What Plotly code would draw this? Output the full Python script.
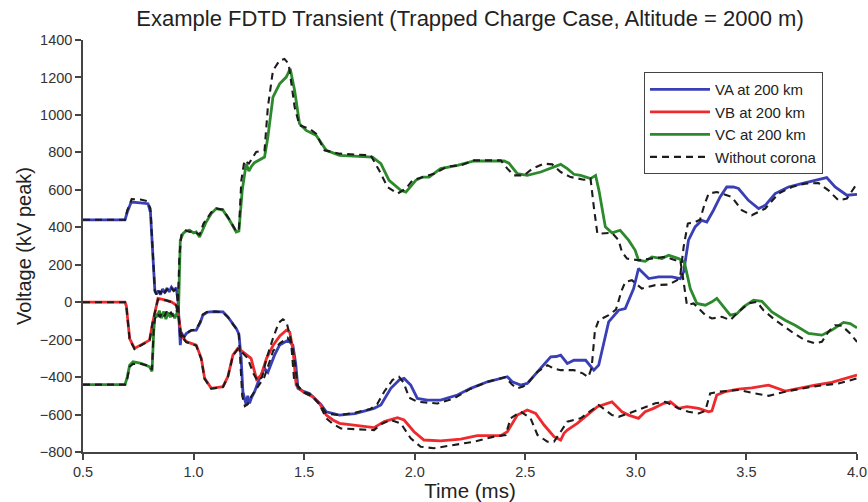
import plotly.graph_objects as go

# Phase voltages 200 km from the source (time in ms, voltage in kV peak)
va_with_corona = [
    (0.5, 440), (0.69, 440), (0.70, 480), (0.718, 535), (0.76, 530), (0.794, 526),
    (0.805, 480), (0.815, 250), (0.825, 60), (0.832, 45), (0.84, 62), (0.85, 40),
    (0.86, 70), (0.87, 50), (0.88, 75), (0.89, 55), (0.90, 80), (0.91, 65),
    (0.922, 76), (0.93, 0), (0.94, -230), (0.945, -160), (0.955, -190), (0.967, -167),
    (0.99, -150), (1.012, -149), (1.03, -110), (1.042, -69), (1.06, -55), (1.073, -52),
    (1.10, -50), (1.133, -52), (1.155, -78), (1.18, -120), (1.193, -140), (1.205, -170),
    (1.215, -300), (1.223, -478), (1.232, -520), (1.238, -549), (1.245, -500),
    (1.253, -540), (1.262, -510), (1.276, -478), (1.298, -407), (1.321, -354),
    (1.336, -375), (1.366, -283), (1.389, -229), (1.427, -203), (1.449, -229),
    (1.462, -330), (1.472, -460), (1.50, -478), (1.524, -487), (1.554, -523),
    (1.575, -545), (1.60, -585), (1.66, -603), (1.73, -595), (1.816, -567),
    (1.847, -549), (1.892, -460), (1.93, -415), (1.952, -407), (1.982, -443),
    (2.012, -514), (2.057, -523), (2.117, -523), (2.193, -496), (2.253, -460),
    (2.329, -425), (2.419, -398), (2.441, -425), (2.479, -443), (2.509, -434),
    (2.555, -372), (2.615, -292), (2.64, -290), (2.66, -283), (2.69, -327),
    (2.72, -310), (2.773, -310), (2.81, -363), (2.832, -336), (2.877, -105),
    (2.922, -43), (2.952, -34), (2.99, 73), (3.012, 180), (3.035, 153), (3.058, 126),
    (3.103, 135), (3.163, 135), (3.201, 126), (3.216, 162), (3.238, 331),
    (3.268, 402), (3.298, 437), (3.321, 428), (3.351, 491), (3.381, 562),
    (3.411, 615), (3.441, 615), (3.464, 607), (3.509, 544), (3.555, 500),
    (3.585, 517), (3.63, 580), (3.69, 615), (3.75, 633), (3.811, 651),
    (3.863, 665), (3.901, 615), (3.954, 571), (4.0, 576),
]

vb_with_corona = [
    (0.5, 0), (0.69, 0), (0.696, -20), (0.711, -194), (0.733, -247), (0.763, -229),
    (0.801, -203), (0.816, -105), (0.839, 20), (0.86, 15), (0.876, 11), (0.899, 2),
    (0.922, -16), (0.93, -60), (0.944, -176), (0.967, -211), (1.012, -229),
    (1.035, -300), (1.05, -407), (1.08, -460), (1.133, -451), (1.155, -398),
    (1.178, -283), (1.20, -247), (1.223, -265), (1.26, -300), (1.285, -412),
    (1.306, -389), (1.33, -300), (1.36, -230), (1.39, -180), (1.42, -150),
    (1.435, -160), (1.45, -260), (1.464, -443), (1.494, -478), (1.539, -505),
    (1.569, -540), (1.60, -603), (1.63, -629), (1.66, -647), (1.816, -670),
    (1.862, -638), (1.922, -617), (1.952, -629), (1.997, -692), (2.042, -736),
    (2.117, -741), (2.208, -731), (2.283, -713), (2.389, -713), (2.419, -692),
    (2.464, -603), (2.509, -576), (2.547, -594), (2.585, -656), (2.63, -718),
    (2.66, -736), (2.675, -700), (2.69, -683), (2.735, -647), (2.78, -603),
    (2.826, -558), (2.892, -532), (2.937, -585), (2.967, -603), (3.012, -620),
    (3.042, -585), (3.08, -567), (3.126, -540), (3.156, -532), (3.193, -567),
    (3.231, -558), (3.284, -567), (3.329, -585), (3.344, -580), (3.366, -496),
    (3.404, -478), (3.464, -464), (3.524, -457), (3.60, -443), (3.675, -475),
    (3.735, -460), (3.811, -443), (3.886, -428), (3.946, -407), (4.0, -389),
]

vc_with_corona = [
    (0.5, -440), (0.69, -440), (0.70, -400), (0.711, -336), (0.726, -318),
    (0.763, -327), (0.801, -345), (0.812, -370), (0.82, -150), (0.826, -60),
    (0.835, -80), (0.845, -45), (0.855, -85), (0.865, -50), (0.875, -90),
    (0.885, -55), (0.895, -80), (0.905, -60), (0.915, -85), (0.925, -60),
    (0.932, -40), (0.94, 331), (0.952, 366), (0.965, 380), (0.982, 384),
    (1.0, 370), (1.012, 375), (1.027, 348), (1.057, 428), (1.08, 473),
    (1.103, 500), (1.133, 491), (1.163, 437), (1.193, 375), (1.205, 380),
    (1.22, 597), (1.238, 740), (1.25, 700), (1.26, 722), (1.275, 745),
    (1.291, 757), (1.321, 775), (1.336, 882), (1.359, 1095), (1.389, 1166),
    (1.419, 1202), (1.437, 1246), (1.457, 1131), (1.479, 953), (1.509, 917),
    (1.554, 891), (1.60, 811), (1.66, 784), (1.809, 775), (1.847, 740),
    (1.884, 651), (1.937, 597), (1.96, 588), (2.005, 651), (2.035, 668),
    (2.065, 668), (2.117, 713), (2.193, 731), (2.268, 754), (2.404, 754),
    (2.426, 742), (2.464, 686), (2.509, 677), (2.57, 695), (2.63, 722),
    (2.66, 736), (2.69, 713), (2.72, 683), (2.75, 677), (2.795, 660),
    (2.818, 677), (2.833, 597), (2.862, 402), (2.892, 370), (2.929, 384),
    (2.967, 331), (2.997, 277), (3.012, 224), (3.042, 218), (3.073, 242),
    (3.118, 233), (3.148, 251), (3.193, 233), (3.219, 215), (3.246, 73),
    (3.276, -7), (3.314, -16), (3.344, 2), (3.366, 20), (3.397, -25),
    (3.427, -69), (3.457, -61), (3.487, -25), (3.532, 11), (3.57, 5),
    (3.615, -52), (3.675, -96), (3.72, -123), (3.781, -167), (3.841, -176),
    (3.886, -149), (3.939, -108), (3.969, -114), (4.0, -137),
]

# Same three phases computed without corona
va_no_corona = [
    (0.5, 440), (0.69, 440), (0.70, 490), (0.72, 550), (0.76, 548), (0.79, 540),
    (0.805, 500), (0.815, 260), (0.825, 60), (0.832, 40), (0.84, 65), (0.85, 45),
    (0.86, 72), (0.87, 52), (0.88, 70), (0.89, 58), (0.90, 75), (0.91, 60),
    (0.922, 70), (0.93, -10), (0.94, -200), (0.948, -175), (0.958, -185),
    (0.967, -165), (0.99, -150), (1.012, -145), (1.03, -105), (1.042, -65),
    (1.06, -52), (1.10, -50), (1.133, -55), (1.155, -80), (1.18, -120),
    (1.195, -145), (1.205, -175), (1.213, -320), (1.22, -500), (1.232, -555),
    (1.245, -545), (1.26, -505), (1.28, -470), (1.30, -440), (1.32, -400),
    (1.34, -330), (1.36, -260), (1.39, -220), (1.425, -190), (1.445, -220),
    (1.46, -340), (1.47, -450), (1.50, -480), (1.525, -490), (1.555, -525),
    (1.575, -550), (1.60, -595), (1.66, -603), (1.73, -590), (1.80, -570),
    (1.83, -545), (1.862, -478), (1.90, -415), (1.929, -398), (1.95, -430),
    (1.975, -510), (2.012, -532), (2.102, -541), (2.178, -514), (2.253, -462),
    (2.329, -425), (2.41, -400), (2.44, -440), (2.464, -460), (2.49, -450),
    (2.51, -434), (2.555, -372), (2.60, -336), (2.63, -355), (2.66, -363),
    (2.72, -363), (2.76, -380), (2.785, -400), (2.80, -350), (2.815, -150),
    (2.832, -96), (2.877, -69), (2.91, -40), (2.935, 60), (2.952, 108),
    (2.982, 117), (3.027, 73), (3.088, 91), (3.148, 94), (3.186, 117),
    (3.201, 144), (3.216, 295), (3.235, 420), (3.268, 428), (3.29, 440),
    (3.31, 520), (3.329, 580), (3.366, 588), (3.434, 562), (3.479, 491),
    (3.524, 464), (3.585, 500), (3.645, 580), (3.705, 615), (3.765, 633),
    (3.826, 636), (3.871, 597), (3.916, 544), (3.954, 553), (4.0, 633),
]

vb_no_corona = [
    (0.5, 0), (0.69, 0), (0.696, -20), (0.711, -200), (0.733, -250), (0.763, -232),
    (0.801, -205), (0.816, -100), (0.839, 15), (0.876, 10), (0.899, 0), (0.922, -18),
    (0.93, -60), (0.944, -180), (0.967, -213), (1.012, -232), (1.035, -305),
    (1.05, -410), (1.08, -462), (1.133, -453), (1.155, -400), (1.178, -285),
    (1.20, -250), (1.215, -262), (1.245, -300), (1.27, -380), (1.29, -420),
    (1.31, -400), (1.33, -300), (1.36, -190), (1.385, -110), (1.404, -91),
    (1.42, -105), (1.44, -200), (1.455, -420), (1.494, -480), (1.539, -505),
    (1.569, -545), (1.60, -620), (1.63, -650), (1.666, -674), (1.816, -683),
    (1.85, -650), (1.892, -629), (1.937, -647), (1.982, -727), (2.027, -772),
    (2.087, -780), (2.178, -763), (2.268, -745), (2.359, -718), (2.411, -709),
    (2.434, -620), (2.479, -585), (2.524, -620), (2.555, -709), (2.60, -745),
    (2.63, -745), (2.66, -692), (2.69, -638), (2.75, -620), (2.81, -567),
    (2.832, -549), (2.892, -603), (2.922, -612), (2.967, -594), (3.027, -567),
    (3.088, -540), (3.133, -532), (3.193, -567), (3.238, -585), (3.284, -594),
    (3.314, -580), (3.336, -487), (3.374, -478), (3.464, -469), (3.539, -487),
    (3.60, -500), (3.675, -478), (3.796, -451), (3.916, -434), (4.0, -407),
]

vc_no_corona = [
    (0.5, -440), (0.69, -440), (0.70, -410), (0.711, -345), (0.726, -330),
    (0.763, -330), (0.801, -340), (0.812, -360), (0.82, -130), (0.828, -75),
    (0.838, -60), (0.848, -80), (0.858, -55), (0.868, -75), (0.878, -50),
    (0.888, -70), (0.898, -55), (0.908, -75), (0.918, -50), (0.928, -45),
    (0.936, 250), (0.945, 360), (0.96, 385), (0.982, 375), (1.0, 380),
    (1.012, 370), (1.027, 360), (1.045, 420), (1.08, 480), (1.103, 500),
    (1.133, 495), (1.163, 440), (1.193, 378), (1.205, 385), (1.216, 650),
    (1.23, 757), (1.25, 740), (1.283, 802), (1.321, 811), (1.336, 1042),
    (1.359, 1237), (1.389, 1291), (1.411, 1299), (1.43, 1273), (1.457, 1042),
    (1.479, 944), (1.524, 926), (1.554, 900), (1.592, 811), (1.66, 793),
    (1.801, 784), (1.839, 704), (1.877, 615), (1.922, 580), (1.96, 606),
    (1.99, 651), (2.042, 668), (2.087, 686), (2.148, 725), (2.208, 731),
    (2.268, 757), (2.389, 757), (2.419, 713), (2.449, 677), (2.494, 677),
    (2.532, 713), (2.585, 740), (2.622, 736), (2.66, 695), (2.705, 668),
    (2.765, 654), (2.795, 660), (2.81, 508), (2.826, 366), (2.892, 370),
    (2.922, 331), (2.937, 268), (2.96, 233), (3.012, 224), (3.073, 233),
    (3.133, 242), (3.178, 224), (3.201, 224), (3.216, 108), (3.231, -16),
    (3.261, -7), (3.314, -69), (3.344, -87), (3.389, -78), (3.427, -96),
    (3.464, -52), (3.509, -7), (3.547, 2), (3.577, -43), (3.63, -96),
    (3.705, -158), (3.765, -203), (3.811, -220), (3.841, -212), (3.871, -158),
    (3.901, -123), (3.931, -125), (3.969, -167), (4.0, -212),
]

series_names = ["VA at 200 km", "VB at 200 km", "VC at 200 km"]
dashed_name = "Without corona"
x_ticks = [0.5, 1.0, 1.5, 2.0, 2.5, 3.0, 3.5, 4.0]
x_tick_labels = ["0.5", "1.0", "1.5", "2.0", "2.5", "3.0", "3.5", "4.0"]
y_ticks = [-800, -600, -400, -200, 0, 200, 400, 600, 800, 1000, 1200, 1400]

colors = ["#3a3fb5", "#ee2a2e", "#2c8a2c"]
font_family = "Liberation Sans, Arial, sans-serif"

fig = go.Figure()

for name, data, color in zip(series_names,
                             [va_with_corona, vb_with_corona, vc_with_corona],
                             colors):
    fig.add_trace(go.Scatter(
        x=[p[0] for p in data], y=[p[1] for p in data],
        mode="lines", name=name,
        line=dict(color=color, width=2.8),
    ))

for i, data in enumerate([va_no_corona, vb_no_corona, vc_no_corona]):
    fig.add_trace(go.Scatter(
        x=[p[0] for p in data], y=[p[1] for p in data],
        mode="lines", name=dashed_name,
        legendgroup="nocorona", showlegend=(i == 0),
        line=dict(color="#1c1c1c", width=2.1, dash="7px,5px"),
    ))

fig.update_layout(
    width=868, height=502,
    margin=dict(l=83, r=11, t=40, b=50, autoexpand=False),
    paper_bgcolor="white", plot_bgcolor="white",
    font=dict(family=font_family, color="#333333"),
    title=dict(
        text="Example FDTD Transient (Trapped Charge Case, Altitude = 2000 m)",
        x=0.5, xref="paper", xanchor="center",
        y=1 - 18 / 502, yref="container", yanchor="middle",
        font=dict(size=22, color="#222222"),
    ),
    legend=dict(
        x=0.7248, y=0.922, xanchor="left", yanchor="top",
        bgcolor="white", bordercolor="#444444", borderwidth=1,
        font=dict(size=15, color="#222222"),
        itemwidth=60, tracegroupgap=0,
    ),
    showlegend=True,
)

fig.update_xaxes(
    range=[0.5, 4.0], tickvals=x_ticks, ticktext=x_tick_labels,
    showline=True, linecolor="#444444", linewidth=1.5,
    ticks="outside", ticklen=6, tickwidth=1.5, tickcolor="#444444",
    showgrid=False, zeroline=False,
    tickfont=dict(size=14.5, color="#333333"),
    title=dict(text="Time (ms)", font=dict(size=20.5, color="#222222"), standoff=5),
)
fig.update_yaxes(
    range=[-800, 1400], tickvals=y_ticks,
    showline=True, linecolor="#444444", linewidth=1.5,
    ticks="outside", ticklen=6, tickwidth=1.5, tickcolor="#444444",
    showgrid=False, zeroline=False,
    tickfont=dict(size=14.5, color="#333333"),
    title=dict(text="Voltage (kV peak)", font=dict(size=20, color="#222222"), standoff=3),
)

fig.write_html("out.html")
